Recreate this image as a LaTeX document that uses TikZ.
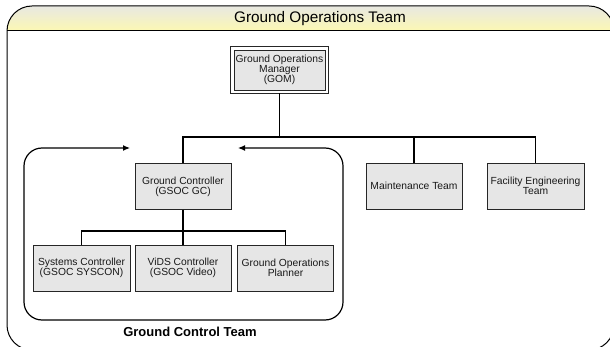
\documentclass[tikz,border=0pt]{standalone}
\usepackage{fontspec}
\setmainfont{Liberation Sans}
\usetikzlibrary{arrows.meta}
\definecolor{boxgray}{RGB}{230,230,230}
\definecolor{headtop}{RGB}{232,232,226}
\definecolor{headbot}{RGB}{252,248,178}
\tikzset{
  unit/.style={draw=black!85, line width=0.9pt, fill=boxgray, minimum width=96pt, minimum height=46pt,
    inner sep=1pt, align=center, text=black!90, font=\fontsize{10.3}{10}\selectfont},
  link/.style={line width=1.4pt},
}
\begin{document}
\begin{tikzpicture}[x=1pt,y=-1pt]
      \useasboundingbox (0,0) rectangle (610,347);

      % outer frame with its header band
      \begin{scope}
            \clip[rounded corners=25pt] (7,6) rectangle (614,350);
            \shade[top color=headtop, bottom color=headbot] (7,6) rectangle (614,31);
      \end{scope}
      \draw[line width=1pt, rounded corners=25pt] (7,6) rectangle (614,350);
      \draw[line width=1pt] (7,31) -- (614,31);
      \node (title) at (320,19) {\fontsize{15.3}{15}\selectfont Ground Operations Team};

      % boxes
      \node[unit, minimum width=91pt, minimum height=40pt] (gom) at (279.5,70) {Ground Operations\\Manager\\(GOM)};
      \draw[line width=0.9pt, black!85] ([xshift=-2.8pt,yshift=2.8pt]gom.north west) rectangle ([xshift=2.8pt,yshift=-2.8pt]gom.south east);
      \node[unit] (gc) at (183,186.5) {Ground Controller\\(GSOC GC)};
      \node[unit] (maint) at (414,186) {Maintenance Team};
      \node[unit, minimum width=97pt] (fac) at (535.5,186) {Facility Engineering\\Team};

      \node[unit, minimum width=97pt] (sys) at (81.5,268) {Systems Controller\\(GSOC SYSCON)};
      \node[unit] (vids) at (183,268) {ViDS Controller\\(GSOC Video)};
      \node[unit] (plan) at (285.5,268) {Ground Operations\\Planner};

      % connectors
      \draw[link] ([yshift=-2.8pt]gom.south) -- (279.5,137) coordinate (hub);
      \draw[link] (hub) -| (gc.north);
      \draw[link] (hub) -| (maint.north);
      \draw[link] (hub) -| (fac.north);

      \draw[link] (gc.south) -- (vids.north);
      \coordinate (sub) at (183,231);
      \draw[link] (sub) -| (sys.north);
      \draw[link] (sub) -| (plan.north);

      % ground control team group
      \coordinate (gapL) at (130,148);
      \coordinate (gapR) at (238,148);
      \draw[line width=1.2pt, rounded corners=18pt, {Latex[length=7pt,width=6pt]}-{Latex[length=7pt,width=6pt]}] (gapL) -- (24,148) -- (24,320) -- (343,320) -- (343,148) -- (gapR);
      \node[font=\fontsize{13}{13}\selectfont\bfseries] (gctlabel) at (190,332) {Ground Control Team};
\end{tikzpicture}
\end{document}
